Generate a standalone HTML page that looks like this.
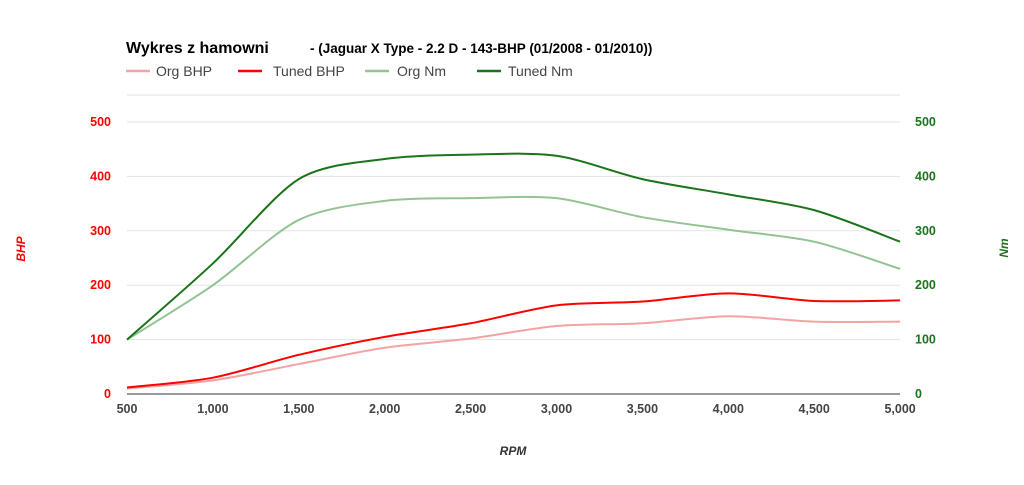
<!DOCTYPE html><html><head><style>body{margin:0;background:#fff}svg{display:block;font-family:"Liberation Sans",Arial,sans-serif}</style></head><body>
<svg id="s" width="1024" height="485" xmlns="http://www.w3.org/2000/svg">
<text x="126" y="53" font-size="16" font-weight="bold" fill="#000">Wykres z hamowni</text>
<text x="310" y="53" font-size="13.5" font-weight="bold" fill="#000">- (Jaguar X Type - 2.2 D - 143-BHP (01/2008 - 01/2010))</text>
<g font-size="14" fill="#444">
<line x1="126" y1="71" x2="150" y2="71" stroke="#f4a3a3" stroke-width="2.5"/><text x="156" y="76">Org BHP</text>
<line x1="238" y1="71" x2="262" y2="71" stroke="#f00" stroke-width="2.5"/><text x="273" y="76">Tuned BHP</text>
<line x1="365" y1="71" x2="389" y2="71" stroke="#93c393" stroke-width="2.5"/><text x="397" y="76">Org Nm</text>
<line x1="477" y1="71" x2="501" y2="71" stroke="#1a741a" stroke-width="2.5"/><text x="508" y="76">Tuned Nm</text>
</g>
<g id="grid" stroke="#e3e3e3" stroke-width="1"></g>
<g id="lbl" font-size="12.5" font-weight="bold"></g>
<text x="0" y="0" transform="translate(25,249) rotate(-90)" font-size="12" font-weight="bold" font-style="italic" fill="#f00" text-anchor="middle">BHP</text>
<text x="0" y="0" transform="translate(1008,248) rotate(-90)" font-size="12" font-weight="bold" font-style="italic" fill="#1a741a" text-anchor="middle">Nm</text>
<text x="513" y="455" font-size="12" font-weight="bold" font-style="italic" fill="#333" text-anchor="middle">RPM</text>
<g id="lines" fill="none" stroke-width="2"></g>
</svg>
<script>
var ns="http://www.w3.org/2000/svg";function el(p,t,a,tx){var e=document.createElementNS(ns,t);for(var k in a)e.setAttribute(k,a[k]);if(tx!=null)e.textContent=tx;document.getElementById(p).appendChild(e);}
function Y(v){return 394-0.544*v}function X(i){return 127+i*85.9}
el("grid","line",{x1:127,x2:900,y1:95,y2:95});
for(var v=0;v<=500;v+=100){el("grid","line",{x1:127,x2:900,y1:Y(v),y2:Y(v),stroke:v==0?"#333":"#e3e3e3"});
el("lbl","text",{x:111,y:Y(v)+4,"text-anchor":"end",fill:"#f00"},v);el("lbl","text",{x:915,y:Y(v)+4,fill:"#1a741a"},v);}
var xl=["500","1,000","1,500","2,000","2,500","3,000","3,500","4,000","4,500","5,000"];
for(var i=0;i<10;i++)el("lbl","text",{x:X(i),y:413,"text-anchor":"middle",fill:"#444"},xl[i]);
function path(d,c){var p=d.map(function(v,i){return[X(i),Y(v)]});var s="M"+p[0][0]+","+p[0][1];
for(var i=0;i<p.length-1;i++){var p0=p[i-1]||p[i],p1=p[i],p2=p[i+1],p3=p[i+2]||p2;var t=7;
s+=" C"+(p1[0]+(p2[0]-p0[0])/t)+","+(p1[1]+(p2[1]-p0[1])/t)+" "+(p2[0]-(p3[0]-p1[0])/t)+","+(p2[1]-(p3[1]-p1[1])/t)+" "+p2[0]+","+p2[1];}
el("lines","path",{d:s,stroke:c});}
path([100,200,320,355,360,360,325,302,280,230],"#93c393");
path([100,240,395,432,440,438,395,367,338,280],"#1a741a");
path([10,25,55,85,102,125,130,143,133,133],"#f4a3a3");
path([12,30,72,105,130,163,170,185,171,172],"#f00");
</script>
</body></html>
